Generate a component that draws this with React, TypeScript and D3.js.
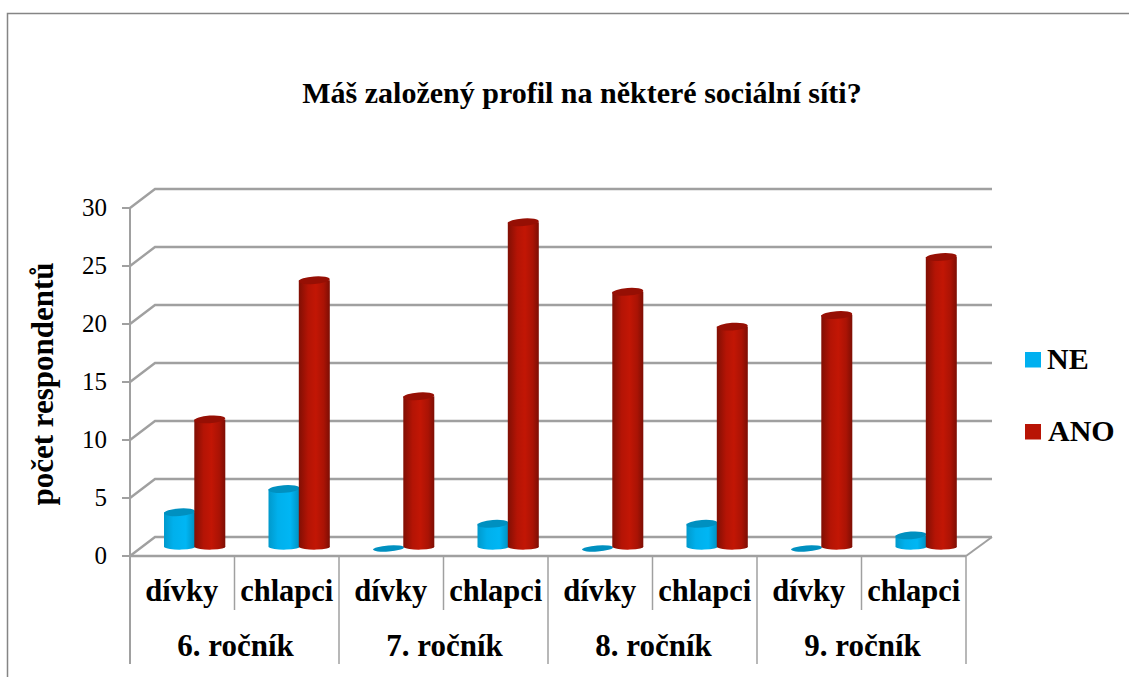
import React from "react";
import * as d3 from "d3";

const categories = ["dívky", "chlapci", "dívky", "chlapci", "dívky", "chlapci", "dívky", "chlapci"];
const groups = ["6. ročník", "7. ročník", "8. ročník", "9. ročník"];
const valuesNE = [3, 5, 0, 2, 0, 2, 0, 1];
const valuesANO = [11, 23, 13, 28, 22, 19, 20, 25];
const yTicks = [0, 5, 10, 15, 20, 25, 30];
const title = "Máš založený profil na některé sociální síti?";
const yTitle = "počet respondentů";
const FONT = "'Liberation Serif', serif";
const GRID = "#a0a0a0";

const W = 1129, H = 677;
const x = d3.scaleBand<number>().domain(d3.range(categories.length)).range([130, 966]).paddingInner(0).paddingOuter(0);
const xg = d3.scaleBand<number>().domain(d3.range(groups.length)).range([130, 966]);
const y = d3.scaleLinear().domain([0, 30]).range([556, 208]);
const DX = 25, DY = -19;
const barW = 31, RY = 3.8, RYB = 3;
const neOff = 49.5, anoOff = 79.8;
const baseY = -9;

function Bar({ cx, v, grad, top }: { cx: number; v: number; grad: string; top: string }) {
  const yb = y(0) + baseY;
  const yt = y(v) + baseY;
  const r = barW / 2;
  const rot = `rotate(-4 ${cx} ${yt})`;
  if (v === 0) {
    return <ellipse cx={cx} cy={yb + 1.5} rx={r} ry={3} fill={top} transform={`rotate(-4 ${cx} ${yb + 1.5})`} />;
  }
  const d = `M${cx - r},${yt} L${cx - r},${yb} A${r},${RYB} 0 0 0 ${cx + r},${yb - 0.8} L${cx + r},${yt} Z`;
  return (
    <g>
      <path d={d} fill={`url(#${grad})`} />
      <ellipse cx={cx} cy={yt} rx={r} ry={RY} fill={top} transform={rot} />
    </g>
  );
}

export default function App() {
  return (
    <svg width={W} height={H} style={{ position: "absolute", left: 0, top: 0, background: "#fff" }} fontFamily={FONT}>
      <defs>
        <linearGradient id="red" x1="0" x2="1" y1="0" y2="0">
          <stop offset="0" stopColor="#800f04" />
          <stop offset="0.3" stopColor="#b41405" />
          <stop offset="0.55" stopColor="#c21605" />
          <stop offset="0.8" stopColor="#aa1305" />
          <stop offset="1" stopColor="#7c0e04" />
        </linearGradient>
        <linearGradient id="blue" x1="0" x2="1" y1="0" y2="0">
          <stop offset="0" stopColor="#0099cc" />
          <stop offset="0.3" stopColor="#00b0ec" />
          <stop offset="0.7" stopColor="#00b6f4" />
          <stop offset="1" stopColor="#0090c0" />
        </linearGradient>
      </defs>

      {/* frame */}
      <path d={`M7.5,${H} V13.5 H${W}`} fill="none" stroke="#858585" strokeWidth={1.5} />

      {/* walls */}
      {yTicks.map((t) => (
        <path key={t} d={`M${x.range()[0]},${y(t)} l${DX},${DY} H${x.range()[1] + DX + 1}`} fill="none" stroke={GRID} strokeWidth={2.4} />
      ))}
      <path d={`M${x.range()[1]},${y(0)} l${DX + 1},${DY}`} fill="none" stroke={GRID} strokeWidth={2} />

      {/* axis */}
      <path d={`M${x.range()[0]},${y(30)} V664`} fill="none" stroke={GRID} strokeWidth={2} />
      <path d={`M${x.range()[0]},${y(0)} H${x.range()[1]}`} fill="none" stroke={GRID} strokeWidth={2.4} />
      {yTicks.map((t) => (
        <g key={t}>
          <line x1={122} x2={130} y1={y(t)} y2={y(t)} stroke={GRID} strokeWidth={2} />
          <text x={107} y={y(t)} dy="0.33em" textAnchor="end" fontSize={25} fill="#000">{t}</text>
        </g>
      ))}

      {/* category separators */}
      {categories.map((_, i) =>
        i === 0 ? null : (
          <line key={i} x1={x(i)!} x2={x(i)!} y1={y(0)} y2={i % 2 === 0 ? 664 : 610} stroke={GRID} strokeWidth={1.5} />
        )
      )}
      <line x1={x.range()[1]} x2={x.range()[1]} y1={y(0)} y2={664} stroke={GRID} strokeWidth={1.5} />

      {/* bars */}
      {categories.map((_, i) => (
        <g key={i}>
          <Bar cx={x(i)! + neOff} v={valuesNE[i]} grad="blue" top="#0090c0" />
          <Bar cx={x(i)! + anoOff} v={valuesANO[i]} grad="red" top="#960f04" />
        </g>
      ))}

      {/* labels */}
      {categories.map((c, i) => (
        <text key={i} x={x(i)! + x.bandwidth() / 2 + (i % 2 ? 0 : -0.5)} y={601} textAnchor="middle" fontSize={30.5} fontWeight="bold" fill="#000">{c}</text>
      ))}
      {groups.map((g, i) => (
        <text key={g} x={xg(i)! + xg.bandwidth() / 2 + 1} y={655.5} textAnchor="middle" fontSize={31} fontWeight="bold" fill="#000">{g}</text>
      ))}

      <text x={582} y={103} textAnchor="middle" fontSize={30} fontWeight="bold" fill="#000">{title}</text>
      <text transform="translate(53,384) rotate(-90)" textAnchor="middle" fontSize={31} fontWeight="bold" fill="#000">{yTitle}</text>

      {/* legend */}
      <rect x={1025} y={352} width={16} height={15.5} fill="#00b0f0" />
      <text x={1047} y={369} fontSize={30} fontWeight="bold" fill="#000">NE</text>
      <rect x={1025} y={424} width={16} height={15.5} fill="#b81405" />
      <text x={1048} y={441} fontSize={30} fontWeight="bold" fill="#000">ANO</text>
    </svg>
  );
}
